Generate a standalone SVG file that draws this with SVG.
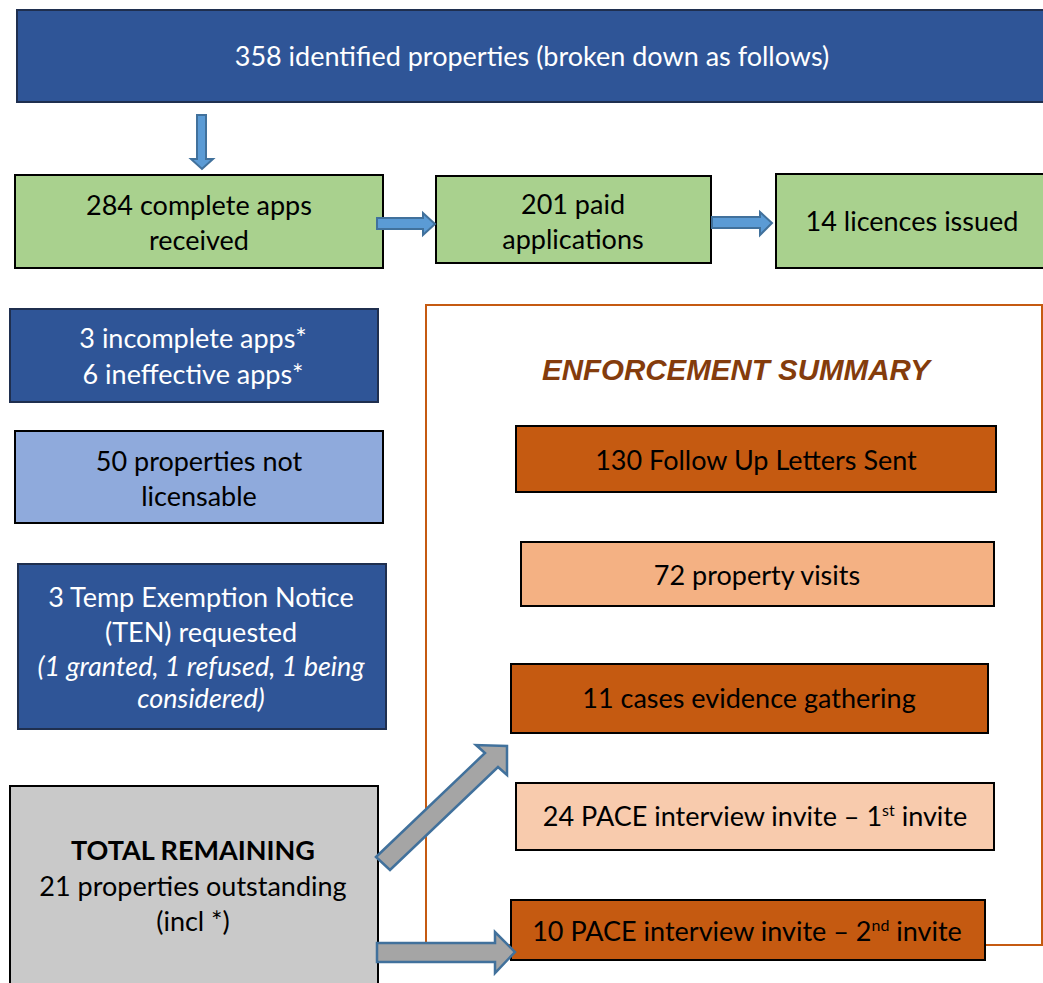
<svg xmlns="http://www.w3.org/2000/svg" width="1043" height="983" viewBox="0 0 1043 983">
<style>
.t{font-family:Lato,"Open Sans","Liberation Sans",sans-serif;font-size:27px;text-anchor:middle}
.w{fill:#FFFFFF}
.k{fill:#000000}
.dk{fill:#2F5597;stroke:#1F2F4F;stroke-width:2}
.gr{fill:#A9D18E;stroke:#000;stroke-width:2}
.lb{fill:#8FAADC;stroke:#000;stroke-width:2}
.gy{fill:#C9C9C9;stroke:#000;stroke-width:2}
.or{fill:#C55A11;stroke:#000;stroke-width:2}
.pe{fill:#F4B183;stroke:#000;stroke-width:2}
.pl{fill:#F8CBAD;stroke:#000;stroke-width:2}
.ba{fill:#5B9BD5;stroke:#41719C;stroke-width:2}
.ga{fill:#A5A5A5;stroke:#41719C;stroke-width:2.5}
</style>
<rect width="1043" height="983" fill="#FFFFFF"/>
<g id="enforcement-frame">
<rect x="426" y="305" width="616" height="640" fill="none" stroke="#C55A11" stroke-width="2"/>
<text x="736" y="380" font-family="'Liberation Sans',Arial,sans-serif" font-size="29.5" font-weight="bold" font-style="italic" fill="#843C0C" text-anchor="middle">ENFORCEMENT SUMMARY</text>
</g>
<g id="n-identified">
<rect class="dk" x="17" y="10" width="1030" height="92"/>
<text class="t w" x="532" y="66">358 identified properties (broken down as follows)</text>
</g>
<g id="n-complete">
<rect class="gr" x="15" y="175" width="368" height="93"/>
<text class="t k" x="199" y="215">284 complete apps</text>
<text class="t k" x="199" y="250">received</text>
</g>
<g id="n-paid">
<rect class="gr" x="436" y="176" width="275" height="87"/>
<text class="t k" x="573" y="214">201 paid</text>
<text class="t k" x="573" y="249">applications</text>
</g>
<g id="n-licences">
<rect class="gr" x="776" y="174" width="270" height="94"/>
<text class="t k" x="912" y="231">14 licences issued</text>
</g>
<g id="n-incomplete">
<rect class="dk" x="10" y="309" width="368" height="93"/>
<text class="t w" x="193" y="348">3 incomplete apps*</text>
<text class="t w" x="193" y="384">6 ineffective apps*</text>
</g>
<g id="n-notlicensable">
<rect class="lb" x="15" y="431" width="368" height="92"/>
<text class="t k" x="199" y="471">50 properties not</text>
<text class="t k" x="199" y="506">licensable</text>
</g>
<g id="n-ten">
<rect class="dk" x="18" y="564" width="368" height="165"/>
<text class="t w" x="201" y="607">3 Temp Exemption Notice</text>
<text class="t w" x="201" y="642">(TEN) requested</text>
<text class="t w" x="201" y="676" font-style="italic">(1 granted, 1 refused, 1 being</text>
<text class="t w" x="201" y="708" font-style="italic">considered)</text>
</g>
<g id="n-total">
<rect class="gy" x="10" y="786" width="368" height="205"/>
<text class="t k" x="193" y="860" font-weight="bold">TOTAL REMAINING</text>
<text class="t k" x="193" y="896">21 properties outstanding</text>
<text class="t k" x="193" y="931">(incl *)</text>
</g>
<g id="n-letters">
<rect class="or" x="516" y="426" width="480" height="66"/>
<text class="t k" x="756" y="470">130 Follow Up Letters Sent</text>
</g>
<g id="n-visits">
<rect class="pe" x="521" y="542" width="473" height="64"/>
<text class="t k" x="757" y="585">72 property visits</text>
</g>
<g id="n-evidence">
<rect class="or" x="511" y="664" width="477" height="69"/>
<text class="t k" x="749" y="708">11 cases evidence gathering</text>
</g>
<g id="n-pace1">
<rect class="pl" x="516" y="783" width="478" height="67"/>
<text class="t k" x="755" y="826">24 PACE interview invite – 1<tspan font-size="16" dy="-10">st</tspan><tspan dy="10"> invite</tspan></text>
</g>
<g id="n-pace2">
<rect class="or" x="511" y="900" width="474" height="60"/>
<text class="t k" x="747" y="941">10 PACE interview invite – 2<tspan font-size="16" dy="-10">nd</tspan><tspan dy="10"> invite</tspan></text>
</g>
<g id="connectors">
<polygon class="ba" points="197,115 206,115 206,159 213,159 202,169 191,159 197,159"/>
<polygon class="ba" points="377,218 423,218 423,213 435,224 423,235 423,229 377,229"/>
<polygon class="ba" points="712,217 760,217 760,212 772,223 760,235 760,228 712,228"/>
<polygon class="ga" points="376,857 485,753 476,745 507,746 507,775 498,767 390,870"/>
<polygon class="ga" points="377,943 495,943 495,932 515,952 495,973 495,962 377,962"/>
</g>
</svg>
